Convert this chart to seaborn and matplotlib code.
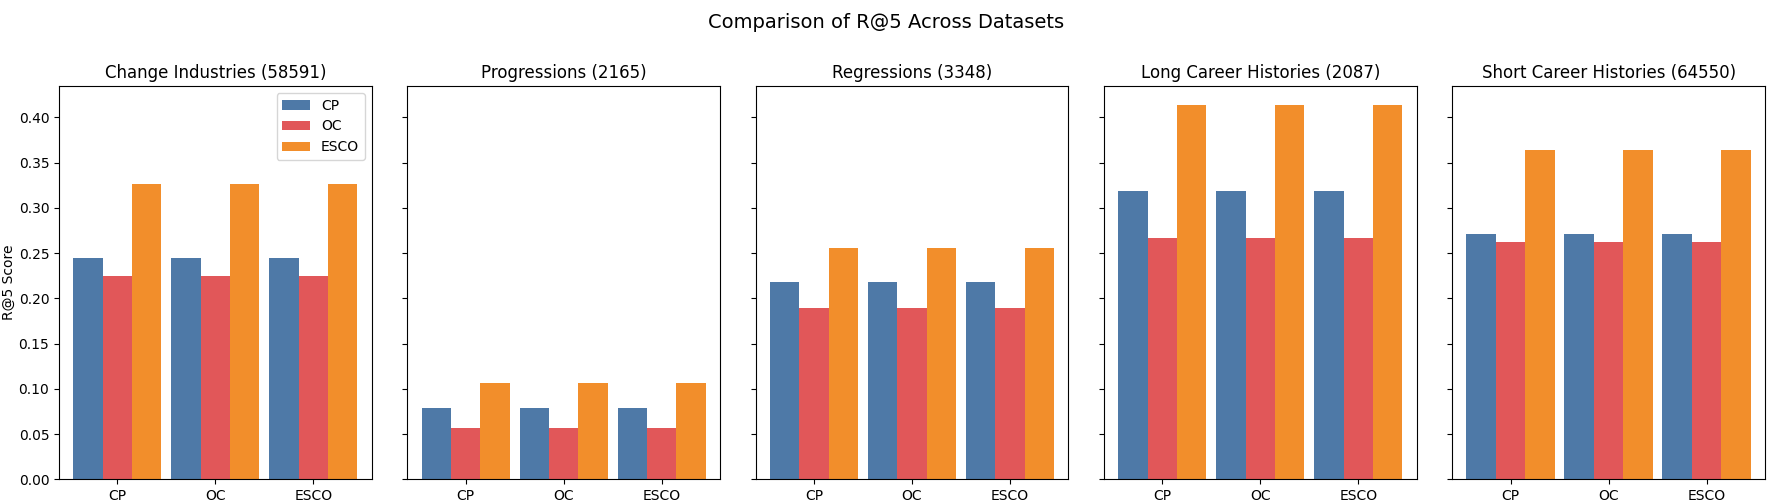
import numpy as np
import pandas as pd
import matplotlib
matplotlib.use("Agg")
import matplotlib.pyplot as plt
import seaborn as sns

# Data
datasets = ["Change Industries (58591)", "Progressions (2165)", "Regressions (3348)",
            "Long Career Histories (2087)", "Short Career Histories (64550)"]
groups = ["CP", "OC", "ESCO"]
methods = ["CP", "OC", "ESCO"]
colors = ["#4e79a7", "#e15759", "#f28e2b"]

# R@5 per dataset for methods CP, OC, ESCO (same in each group)
change_industries = [0.245, 0.225, 0.326]
progressions = [0.079, 0.057, 0.107]
regressions = [0.218, 0.189, 0.256]
long_histories = [0.319, 0.267, 0.414]
short_histories = [0.271, 0.262, 0.364]

scores = [change_industries, progressions, regressions, long_histories, short_histories]


def makeFrame(vals):
    """
    Long table for one panel.
    """
    rows = []
    for g in groups:
        for m, v in zip(methods, vals):
            rows.append({"Group": g, "Method": m, "Score": v})
    return pd.DataFrame(rows)


fig, axes = plt.subplots(1, 5, figsize=(17.72, 5.03), dpi=100, sharey=True)
fig.subplots_adjust(left=0.0333, right=0.996, bottom=0.047, top=0.829, wspace=0.114)

for i, ax in enumerate(axes):
    df = makeFrame(scores[i])
    sns.barplot(data=df, x="Group", y="Score", hue="Method", order=groups,
                hue_order=methods, palette=colors, width=0.9, errorbar=None,
                saturation=1, ax=ax)
    ax.set_title(datasets[i], fontsize=12)
    ax.set_xlabel("")
    ax.set_ylabel("R@5 Score", labelpad=2)
    ax.set_xlim(-0.595, 2.595)
    if i == 0:
        ax.legend(title=None, loc="upper right")
    else:
        ax.get_legend().remove()

axes[0].set_ylim(0, 0.4347)
axes[0].set_yticks(np.arange(0, 0.41, 0.05))
fig.suptitle("Comparison of R@5 Across Datasets", fontsize=14, y=0.975)

plt.savefig("out.png", dpi=100)
